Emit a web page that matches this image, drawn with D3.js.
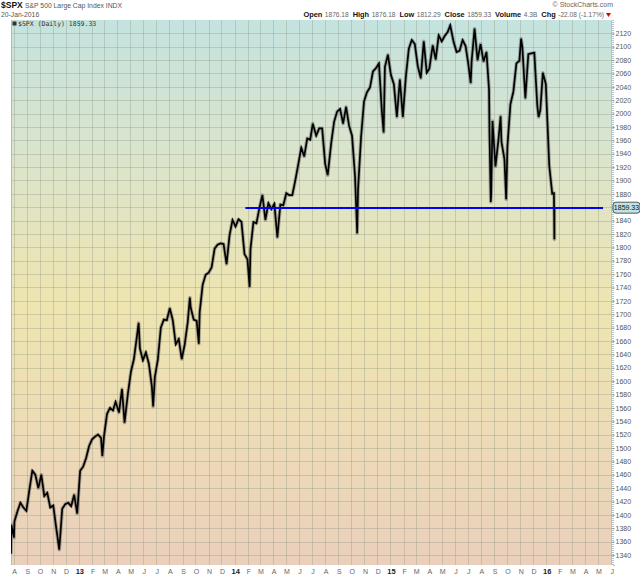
<!DOCTYPE html>
<html>
<head>
<meta charset="utf-8">
<script src="https://cdn.jsdelivr.net/npm/d3@7"></script>
<style>
  body { margin: 0; background: #fff; }
  svg { display: block; font-family: "Liberation Sans", Arial, sans-serif; }
</style>
</head>
<body>
<div id="chart"></div>
<script>
var svgWidth = 640;
var svgHeight = 576;

var plot = { left: 11, right: 612, top: 20, bottom: 565 };

// daily $SPX, read off the chart roughly once a week (plus the sharp lows)
var priceDates = [
  "2012-07-26","2012-07-27","2012-08-02","2012-08-03","2012-08-10","2012-08-17","2012-08-24","2012-08-31",
  "2012-09-07","2012-09-14","2012-09-21","2012-09-28","2012-10-05","2012-10-12","2012-10-19","2012-10-26",
  "2012-11-02","2012-11-09","2012-11-16","2012-11-23","2012-11-30","2012-12-07","2012-12-14","2012-12-21",
  "2012-12-28","2013-01-04","2013-01-11","2013-01-18","2013-01-25","2013-02-01","2013-02-08","2013-02-15",
  "2013-02-22","2013-02-25","2013-03-01","2013-03-08","2013-03-15","2013-03-22","2013-03-28","2013-04-05",
  "2013-04-12","2013-04-18","2013-04-26","2013-05-03","2013-05-10","2013-05-17","2013-05-21","2013-05-24",
  "2013-05-31","2013-06-07","2013-06-14","2013-06-21","2013-06-24","2013-06-28","2013-07-05","2013-07-12",
  "2013-07-19","2013-07-26","2013-08-02","2013-08-09","2013-08-16","2013-08-23","2013-08-30","2013-09-06",
  "2013-09-13","2013-09-18","2013-09-20","2013-09-27","2013-10-04","2013-10-09","2013-10-11","2013-10-18",
  "2013-10-25","2013-11-01","2013-11-08","2013-11-15","2013-11-22","2013-11-29","2013-12-06","2013-12-13",
  "2013-12-20","2013-12-27","2014-01-03","2014-01-10","2014-01-17","2014-01-24","2014-01-31","2014-02-05",
  "2014-02-07","2014-02-14","2014-02-21","2014-02-28","2014-03-07","2014-03-14","2014-03-21","2014-03-28",
  "2014-04-04","2014-04-11","2014-04-18","2014-04-25","2014-05-02","2014-05-09","2014-05-16","2014-05-23",
  "2014-05-30","2014-06-06","2014-06-13","2014-06-20","2014-06-27","2014-07-03","2014-07-11","2014-07-18",
  "2014-07-25","2014-08-01","2014-08-07","2014-08-15","2014-08-22","2014-08-29","2014-09-05","2014-09-12",
  "2014-09-19","2014-09-26","2014-10-03","2014-10-10","2014-10-15","2014-10-17","2014-10-24","2014-10-31",
  "2014-11-07","2014-11-14","2014-11-21","2014-11-28","2014-12-05","2014-12-12","2014-12-16","2014-12-19",
  "2014-12-26","2015-01-02","2015-01-09","2015-01-16","2015-01-23","2015-01-30","2015-02-06","2015-02-13",
  "2015-02-20","2015-02-27","2015-03-06","2015-03-13","2015-03-20","2015-03-27","2015-04-02","2015-04-10",
  "2015-04-17","2015-04-24","2015-05-01","2015-05-08","2015-05-15","2015-05-21","2015-05-29","2015-06-05",
  "2015-06-12","2015-06-19","2015-06-26","2015-07-02","2015-07-08","2015-07-10","2015-07-17","2015-07-24",
  "2015-07-31","2015-08-07","2015-08-14","2015-08-20","2015-08-21","2015-08-24","2015-08-25","2015-08-28",
  "2015-09-04","2015-09-11","2015-09-16","2015-09-18","2015-09-25","2015-09-29","2015-10-02","2015-10-09",
  "2015-10-16","2015-10-23","2015-10-30","2015-11-03","2015-11-06","2015-11-13","2015-11-20","2015-11-27",
  "2015-12-04","2015-12-11","2015-12-14","2015-12-18","2015-12-24","2015-12-31","2016-01-08","2016-01-15",
  "2016-01-19","2016-01-20","2016-01-20"
];
var priceValues = [
  1342,1385,1366,1390,1405,1418,1411,1406,
  1437,1466,1460,1440,1460,1428,1433,1411,
  1414,1380,1348,1409,1416,1418,1413,1430,
  1402,1466,1472,1485,1503,1513,1517,1520,
  1515,1488,1518,1551,1560,1556,1569,1553,
  1588,1538,1582,1614,1633,1667,1687,1649,
  1631,1643,1626,1592,1562,1606,1632,1680,
  1692,1691,1709,1691,1655,1663,1633,1655,
  1688,1725,1710,1692,1690,1656,1703,1744,
  1759,1762,1770,1798,1804,1806,1805,1775,
  1818,1841,1831,1842,1838,1790,1782,1741,
  1797,1838,1836,1859,1878,1841,1866,1857,
  1865,1815,1864,1863,1881,1878,1878,1900,
  1924,1949,1936,1963,1961,1985,1967,1978,
  1978,1925,1908,1955,1988,2003,2007,1985,
  2010,1982,1967,1906,1821,1886,1964,2018,
  2032,2039,2063,2068,2075,2002,1972,2070,
  2088,2058,2044,1995,2051,1995,2055,2097,
  2110,2104,2071,2053,2108,2061,2067,2102,
  2081,2117,2108,2116,2122,2132,2107,2092,
  2094,2110,2101,2076,2046,2077,2127,2080,
  2104,2078,2092,2035,1971,1868,1880,1989,
  1921,1961,1996,1958,1932,1872,1951,2014,
  2033,2075,2079,2112,2099,2023,2089,2090,
  2091,2012,1995,2005,2061,2044,1922,1880,
  1881,1812,1859
];

var yTicks = d3.range(1340, 2121, 20);
var lastClose = 1859.33;
var supportStart = "2014-01-26";
var supportEnd = "2016-05-13";

var headerFields = [
  ["Open", "1876.18"], ["High", "1876.18"], ["Low", "1812.29"],
  ["Close", "1859.33"], ["Volume", "4.3B"], ["Chg", "-22.08 (-1.17%)"]
];

var parseDate = d3.timeParse("%Y-%m-%d");
var prices = priceDates.map(function(d, i) {
  return { date: parseDate(d), value: priceValues[i] };
});

var svg = d3.select("#chart")
  .append("svg")
  .attr("width", svgWidth)
  .attr("height", svgHeight);

var xScale = d3.scaleTime()
  .domain([new Date(2012, 6, 26), new Date(2016, 5, 3)])
  .range([plot.left, plot.right]);

var yScale = d3.scaleLinear()
  .domain([1325, 2140])
  .range([plot.bottom, plot.top]);

// background gradient
var defs = svg.append("defs");
var grad = defs.append("linearGradient")
  .attr("id", "bg")
  .attr("x1", 0).attr("y1", 0).attr("x2", 0).attr("y2", 1);
grad.append("stop").attr("offset", "0%").attr("stop-color", "#c4e3df");
grad.append("stop").attr("offset", "25%").attr("stop-color", "#dbe4cc");
grad.append("stop").attr("offset", "52%").attr("stop-color", "#eee5b0");
grad.append("stop").attr("offset", "75%").attr("stop-color", "#eddcb6");
grad.append("stop").attr("offset", "100%").attr("stop-color", "#ead0bc");

defs.append("clipPath").attr("id", "clip")
  .append("rect")
  .attr("x", plot.left).attr("y", plot.top)
  .attr("width", plot.right - plot.left)
  .attr("height", plot.bottom - plot.top);

svg.append("rect")
  .attr("x", plot.left).attr("y", plot.top)
  .attr("width", plot.right - plot.left)
  .attr("height", plot.bottom - plot.top)
  .attr("fill", "url(#bg)");

// grid
var months = d3.timeMonth.range(new Date(2012, 7, 1), new Date(2016, 5, 3));
var grid = svg.append("g").attr("clip-path", "url(#clip)");
grid.selectAll("line.v")
  .data(months)
  .enter()
  .append("line")
  .attr("x1", d => Math.round(xScale(d)) + 0.5)
  .attr("x2", d => Math.round(xScale(d)) + 0.5)
  .attr("y1", plot.top)
  .attr("y2", plot.bottom)
  .attr("stroke", "#8e9580")
  .attr("stroke-opacity", 0.35);
grid.selectAll("line.h")
  .data(yTicks)
  .enter()
  .append("line")
  .attr("x1", plot.left)
  .attr("x2", plot.right)
  .attr("y1", d => Math.round(yScale(d)) + 0.5)
  .attr("y2", d => Math.round(yScale(d)) + 0.5)
  .attr("stroke", "#8e9580")
  .attr("stroke-opacity", 0.35);

// left border
svg.append("line")
  .attr("x1", plot.left + 0.5).attr("x2", plot.left + 0.5)
  .attr("y1", plot.top).attr("y2", plot.bottom)
  .attr("stroke", "#9cc3cf");

// price line: grey halo for the daily high-low spread, black on top
var line = d3.line()
  .x(d => xScale(d.date))
  .y(d => yScale(d.value));

var priceG = svg.append("g").attr("clip-path", "url(#clip)");
priceG.append("path")
  .datum(prices)
  .attr("d", line)
  .attr("fill", "none")
  .attr("stroke", "#555")
  .attr("stroke-opacity", 0.45)
  .attr("stroke-width", 3.6)
  .attr("stroke-linejoin", "round");
priceG.append("path")
  .datum(prices)
  .attr("d", line)
  .attr("fill", "none")
  .attr("stroke", "#000")
  .attr("stroke-width", 1.7)
  .attr("stroke-linejoin", "miter");

// support line
var supportY = Math.round(yScale(lastClose));
svg.append("line")
  .attr("x1", xScale(parseDate(supportStart)))
  .attr("x2", xScale(parseDate(supportEnd)))
  .attr("y1", supportY)
  .attr("y2", supportY)
  .attr("stroke", "#0000ff")
  .attr("stroke-width", 2);

// right axis
var rightAxis = d3.axisRight(yScale)
  .tickValues(yTicks)
  .tickSize(2)
  .tickPadding(1)
  .tickFormat(d => Math.abs(d - lastClose) < 8 ? "" : d3.format("d")(d));

var yAxisG = svg.append("g")
  .attr("transform", `translate(${plot.right + 0.5}, 0)`)
  .call(rightAxis);
yAxisG.select(".domain")
  .attr("stroke", "#6a8a98")
  .attr("stroke-dasharray", "1,1");
yAxisG.selectAll(".tick line").attr("stroke", "#888");
yAxisG.selectAll("text")
  .attr("font-size", 7)
  .attr("font-family", "Liberation Sans, Arial, sans-serif")
  .attr("fill", "#555");

// last price tag
var tag = svg.append("g")
  .attr("transform", `translate(${plot.right + 1}, ${yScale(lastClose)})`);
tag.append("rect")
  .attr("x", 0).attr("y", -5.5)
  .attr("width", 27).attr("height", 11)
  .attr("rx", 3)
  .attr("fill", "#bfe3e3")
  .attr("stroke", "#333")
  .attr("stroke-width", 0.8);
tag.append("text")
  .attr("x", 13.5).attr("y", 2.5)
  .attr("text-anchor", "middle")
  .attr("font-size", 7)
  .attr("fill", "#111")
  .text(d3.format(".2f")(lastClose));

// bottom month labels
var monthLetter = d3.timeFormat("%b");
svg.append("g")
  .selectAll("text")
  .data(months)
  .enter()
  .append("text")
  .attr("x", d => xScale(d) + 1)
  .attr("y", 574)
  .attr("text-anchor", "middle")
  .attr("font-size", d => d.getMonth() === 0 ? 7.5 : 7)
  .attr("font-weight", d => d.getMonth() === 0 ? "bold" : "normal")
  .attr("fill", d => d.getMonth() === 0 ? "#222" : "#666")
  .text(d => d.getMonth() === 0 ? d3.timeFormat("%y")(d) : monthLetter(d).charAt(0));

// header
svg.append("text")
  .attr("x", 1).attr("y", 8)
  .attr("font-size", 8.5)
  .attr("font-weight", "bold")
  .attr("fill", "#111")
  .text("$SPX");
svg.append("text")
  .attr("x", 25).attr("y", 8)
  .attr("font-size", 6.8)
  .attr("fill", "#555")
  .text("S&P 500 Large Cap Index INDX");
svg.append("text")
  .attr("x", 1).attr("y", 17)
  .attr("font-size", 6.8)
  .attr("fill", "#555")
  .text("20-Jan-2016");
svg.append("text")
  .attr("x", 613).attr("y", 7)
  .attr("text-anchor", "end")
  .attr("font-size", 7)
  .attr("fill", "#666")
  .text("© StockCharts.com");

var info = svg.append("text")
  .attr("x", 604).attr("y", 17)
  .attr("text-anchor", "end")
  .attr("font-size", 6.6);
headerFields.forEach(function(f, i) {
  info.append("tspan")
    .attr("font-weight", "bold")
    .attr("font-size", 7.4)
    .attr("fill", "#111")
    .attr("dx", i === 0 ? 0 : 4)
    .text(f[0]);
  info.append("tspan")
    .attr("fill", "#666")
    .attr("dx", 2.5)
    .text(f[1]);
});
svg.append("path")
  .attr("d", "M606,13 L611,13 L608.5,17 Z")
  .attr("fill", "#d00");

// legend
svg.append("rect")
  .attr("x", 12.5).attr("y", 21.5)
  .attr("width", 4).attr("height", 4)
  .attr("fill", "#333");
svg.append("text")
  .attr("x", 18).attr("y", 26)
  .attr("font-size", 6.5)
  .attr("font-family", "DejaVu Sans Mono, monospace")
  .attr("fill", "#333")
  .text("$SPX (Daily) 1859.33");
</script>
</body>
</html>
